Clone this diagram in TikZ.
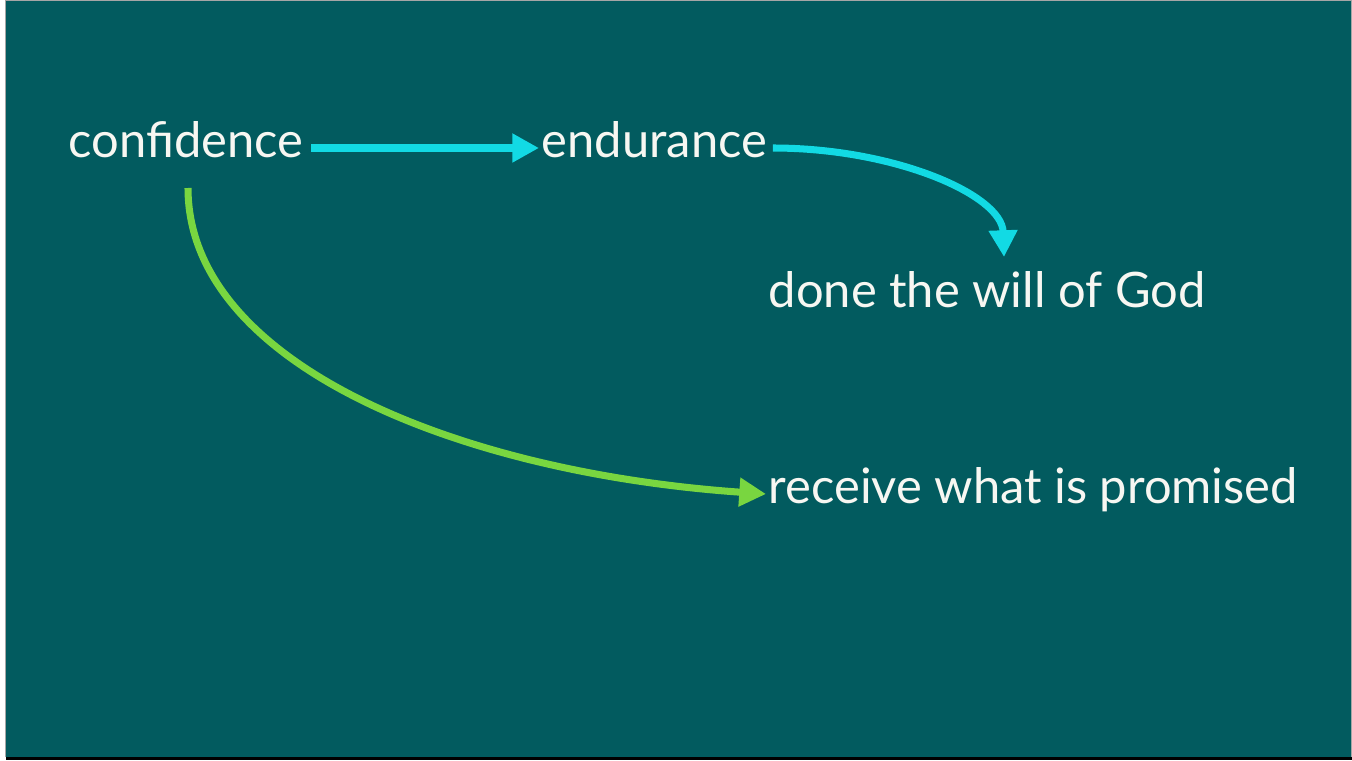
\documentclass[tikz,border=0pt]{standalone}
\usepackage{fontspec}
\setmainfont{Lato}
\usepackage{xcolor}
\usepackage{tikz}
\usetikzlibrary{positioning,calc,arrows.meta}

\definecolor{slidebg}{HTML}{025B5F}
\definecolor{linkcyan}{HTML}{12DAE4}
\definecolor{linkgreen}{HTML}{79D640}
\definecolor{wordwhite}{HTML}{F7F7F2}

\begin{document}
\begin{tikzpicture}[x=0.01cm,y=0.01cm,
    word/.style={text=wordwhite, inner sep=0pt, anchor=base west, font=\fontsize{13.9}{16}\selectfont},
    link/.style={line width=2pt, -{Triangle[length=7.6pt,width=7.8pt]}}]
    % Slide frame
    \useasboundingbox (0,0) rectangle (1352,760);
    \fill[white] (0,0) rectangle (1352,760);
    \fill[slidebg] (6,3) rectangle (1351,759);
    \draw[gray!70, line width=0.3pt] (5.5,3) -- (5.5,759.7) -- (1351.5,759.7) -- (1351.5,3);
    \fill[black] (6,0) rectangle (1352,3);

    % Words
    \node[word] (conf) at (68,603) {confidence};
    \node[word] (endu) at (541,603) {endurance};
    \node[word] (will) at (768,453) {done the will of God};
    \node[word] (recv) at (768,257) {receive what is promised};

    % Top path
    \draw[link, linkcyan] ([shift={(7,9)}]conf.base east) -- ([shift={(-2,9)}]endu.base west);
    \draw[link, linkcyan] ([shift={(5,9)}]endu.base east) to[out=0, in=92, out distance=1.22cm, in distance=0.62cm] ([shift={(236,50)}]will.base west);

    % Lower path
    \draw[link, linkgreen] ([shift={(120,-31)}]conf.base west) to[out=-90, in=176, out distance=1.75cm, in distance=3.1cm] ([shift={(-2,9)}]recv.base west);
\end{tikzpicture}
\end{document}
